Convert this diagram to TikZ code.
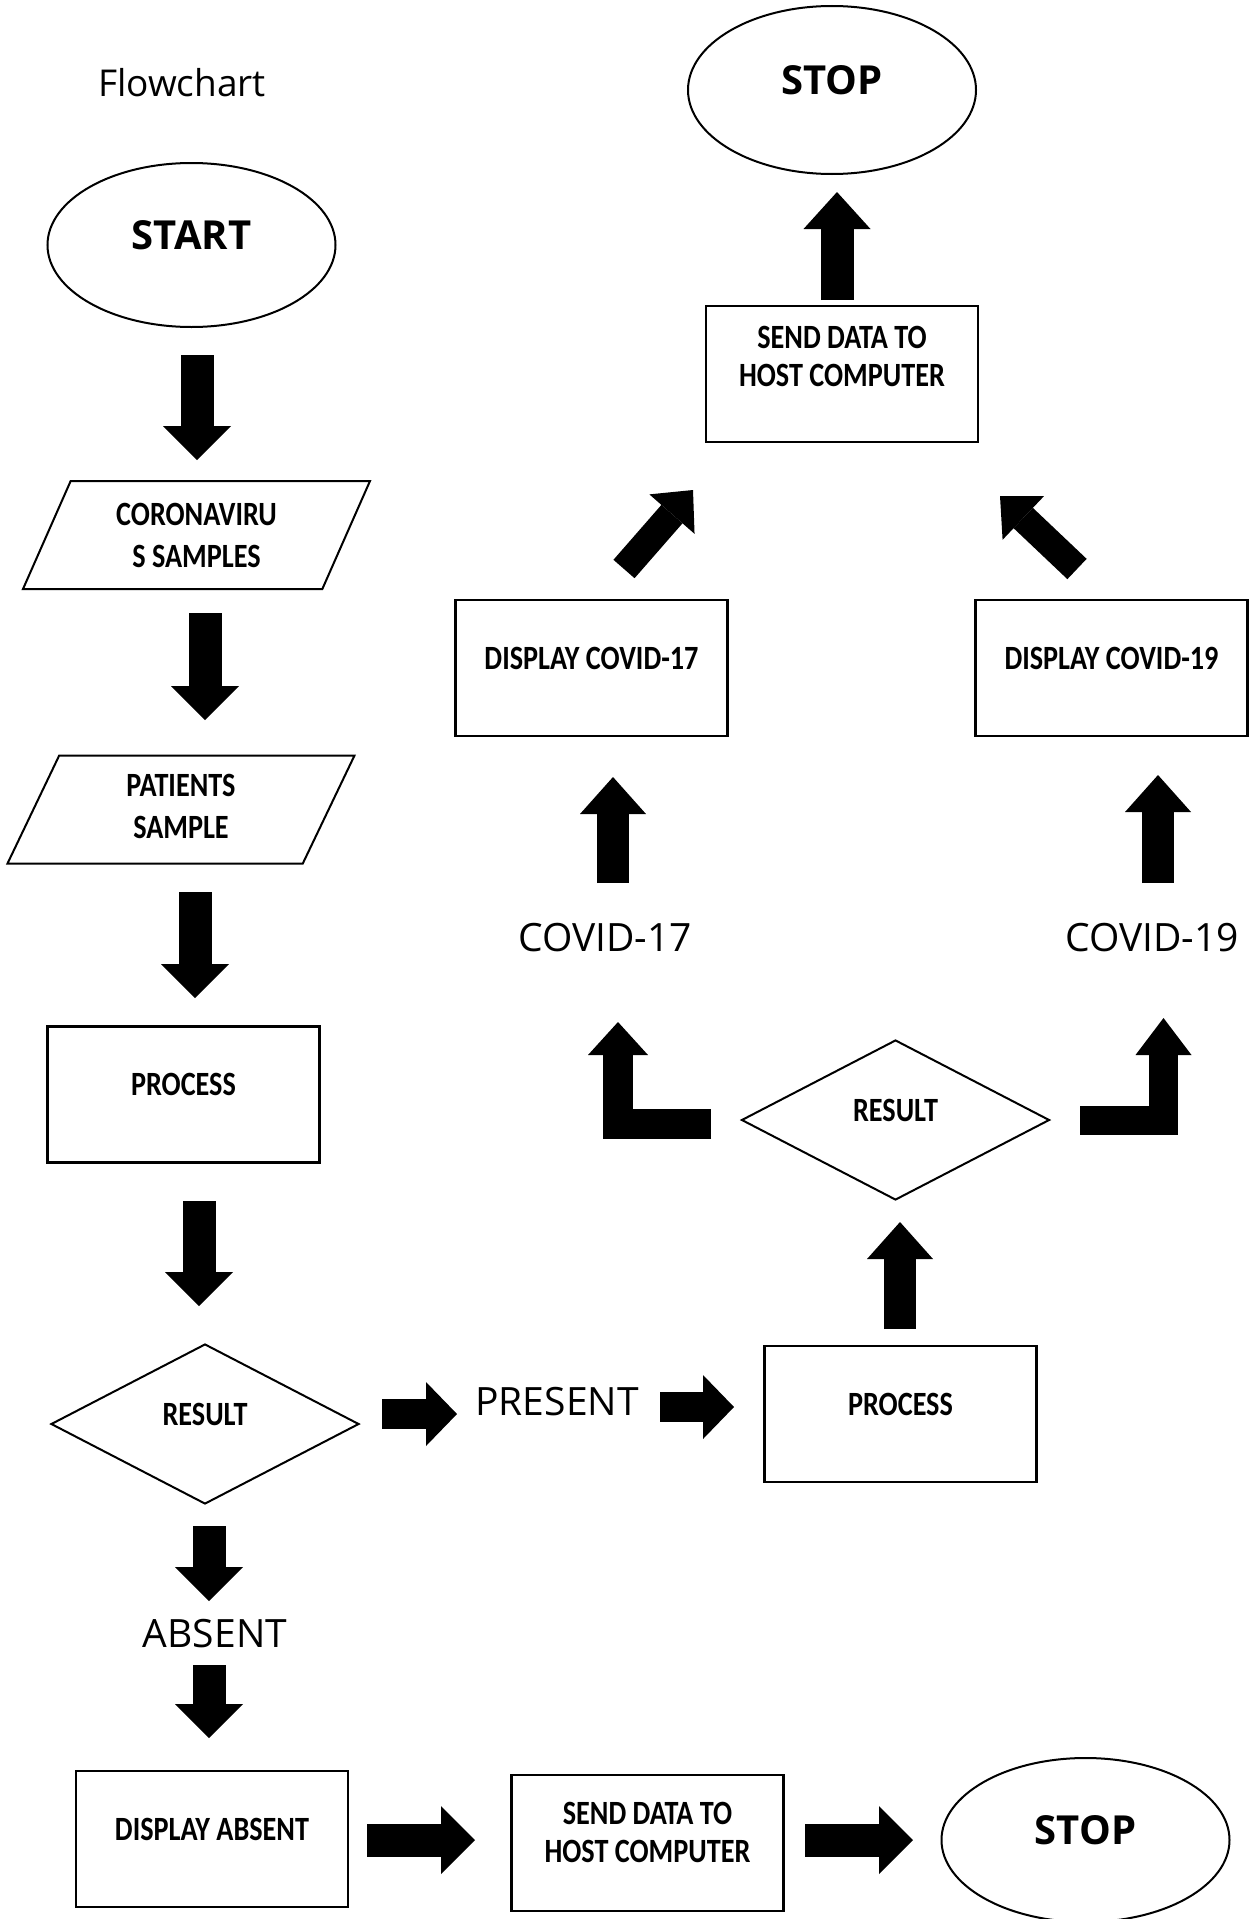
\documentclass[tikz,border=0pt]{standalone}
\usepackage{fontspec}
\setmainfont{Open Sans}
\newfontfamily\boxfont{Carlito}[FakeStretch=0.83]
\usetikzlibrary{shapes.geometric,arrows.meta}

\tikzstyle{startstop} = [ellipse, draw=black, line width=2pt, minimum width=288pt, minimum height=164pt, text height=28pt, text depth=20pt, font=\bfseries\fontsize{40pt}{44pt}\selectfont]
\tikzstyle{io} = [trapezium, trapezium left angle=56, trapezium right angle=124, trapezium stretches body, draw=black, line width=2pt, minimum width=347pt, minimum height=108pt, align=center, text height=64pt, text depth=0pt, font=\boxfont\bfseries\fontsize{34pt}{42pt}\selectfont]
\tikzstyle{process} = [rectangle, draw=black, line width=2.2pt, minimum width=272pt, minimum height=136pt, align=center, text height=22pt, text depth=20pt, font=\boxfont\bfseries\fontsize{34pt}{38pt}\selectfont]
\tikzstyle{decision} = [diamond, draw=black, line width=2pt, minimum width=308pt, minimum height=160pt, text height=22pt, text depth=20pt, font=\boxfont\bfseries\fontsize{34pt}{38pt}\selectfont]
\tikzstyle{tag} = [font=\fontsize{39pt}{44pt}\selectfont]
\tikzset{fatarrow/.style={line width=#1, line join=miter, -{Triangle[length=34pt,width=68pt,line width=0pt]}}, fatarrow/.default=33pt}

\begin{document}
\begin{tikzpicture}[x=1pt, y=-1pt]
	\useasboundingbox (0,0) rectangle (1251,1919);
	\node (title) [tag, font=\fontsize{37pt}{42pt}\selectfont] at (182,83) {Flowchart};
	
	% left column
	\node (start) [startstop] at (191.5,245) {START};
	\node (coro) [io] at (196.5,535) {CORONAVIRU\\S SAMPLES};
	\node (pat) [io, text depth=6pt] at (181,809.5) {PATIENTS\\SAMPLE};
	\node (proc1) [process] at (183.5,1094.5) {PROCESS};
	\node (res1) [decision] at (205,1424) {RESULT};
	\node (present) [tag] at (557,1402) {PRESENT};
	\node (absent) [tag] at (215,1634) {ABSENT};
	
	% bottom row
	\node (dabs) [process] at (212,1839) {DISPLAY ABSENT};
	\node (send2) [process, text height=60pt, text depth=22pt] at (647.5,1843) {SEND DATA TO\\HOST COMPUTER};
	\node (stop2) [startstop] at (1085.5,1840) {STOP};
	
	% right part
	\node (proc2) [process] at (900.5,1414) {PROCESS};
	\node (res2) [decision] at (895.5,1120) {RESULT};
	\node (c17) [tag] at (605,938) {COVID-17};
	\node (c19) [tag] at (1152,938) {COVID-19};
	\node (dc17) [process] at (591.5,668) {DISPLAY COVID-17};
	\node (dc19) [process] at (1111.5,668) {DISPLAY COVID-19};
	\node (send1) [process, text height=60pt, text depth=36pt] at (842,374) {SEND DATA TO\\HOST COMPUTER};
	\node (stop1) [startstop, minimum height=168pt] at (832,90) {STOP};
	
	\draw [fatarrow] ([shift={(5.5,110)}]start.center) -- ([shift={(0.5,-75)}]coro.center);
	\draw [fatarrow] ([shift={(8.5,78)}]coro.center) -- ([shift={(24,-89.5)}]pat.center);
	\draw [fatarrow] ([shift={(14,82.5)}]pat.center) -- ([shift={(11.5,-96.5)}]proc1.center);
	\draw [fatarrow] ([shift={(15.5,106.5)}]proc1.center) -- ([shift={(-6,-118)}]res1.center);
	\draw [fatarrow] ([shift={(4,102)}]res1.center) -- ([shift={(-6,-33)}]absent.center);
	\draw [fatarrow] ([shift={(-6,31)}]absent.center) -- ([shift={(-3,-101)}]dabs.center);
	\draw [fatarrow] ([shift={(155,1)}]dabs.center) -- ([shift={(-172.5,-3)}]send2.center);
	\draw [fatarrow] ([shift={(157.5,-3)}]send2.center) -- ([shift={(-172.5,0)}]stop2.center);
	\draw [fatarrow=30pt, -{Triangle[length=31pt,width=64pt,line width=0pt]}] ([shift={(177,-10)}]res1.center) -- ([shift={(-100,12)}]present.center);
	\draw [fatarrow=30pt, -{Triangle[length=31pt,width=64pt,line width=0pt]}] ([shift={(103,5)}]present.center) -- ([shift={(-166.5,-7)}]proc2.center);
	\draw [fatarrow=32pt, -{Triangle[length=37pt,width=66pt,line width=0pt]}] ([shift={(-0.5,-85)}]proc2.center) -- ([shift={(4.5,102)}]res2.center);
	\draw [fatarrow=30pt, -{Triangle[length=33pt,width=60pt,line width=0pt]}] ([shift={(-184.5,3.5)}]res2.center) -| ([shift={(13,84)}]c17.center);
	\draw [fatarrow=29pt, -{Triangle[length=37pt,width=56pt,line width=0pt]}] ([shift={(184.5,0)}]res2.center) -| ([shift={(11.5,80)}]c19.center);
	\draw [fatarrow=32pt, -{Triangle[length=37pt,width=66pt,line width=0pt]}] ([shift={(8,-55)}]c17.center) -- ([shift={(21.5,109)}]dc17.center);
	\draw [fatarrow=32pt, -{Triangle[length=37pt,width=66pt,line width=0pt]}] ([shift={(6,-55)}]c19.center) -- ([shift={(46.5,107)}]dc19.center);
	\draw [fatarrow=28pt, -{Triangle[length=32pt,width=60pt,line width=0pt]}] ([shift={(32.5,-99)}]dc17.center) -- ([shift={(-149,116)}]send1.center);
	\draw [fatarrow=28pt, -{Triangle[length=32pt,width=60pt,line width=0pt]}] ([shift={(-34.5,-99)}]dc19.center) -- ([shift={(158,122)}]send1.center);
	\draw [fatarrow=33pt, -{Triangle[length=37pt,width=67pt,line width=0pt]}] ([shift={(-5,-74)}]send1.center) -- ([shift={(5,102)}]stop1.center);
\end{tikzpicture}
\end{document}
